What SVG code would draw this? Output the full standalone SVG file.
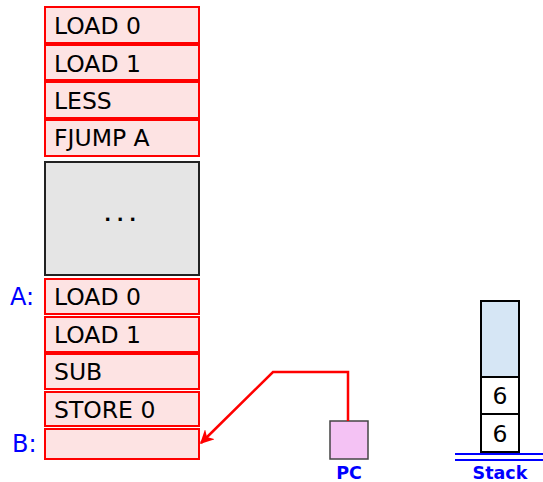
<svg xmlns="http://www.w3.org/2000/svg" width="543" height="482" viewBox="0 0 543 482">
<defs>
<style>
.cell{fill:#fde3e3;stroke:#ff0000;stroke-width:2}
.txt{font-family:"DejaVu Sans",sans-serif;font-size:23.5px;fill:#000}
.lbl{font-family:"DejaVu Sans",sans-serif;font-size:24px;fill:#0000ff}
.blab{font-family:"DejaVu Sans",sans-serif;font-size:17.5px;font-weight:bold;fill:#0000ff;text-anchor:middle}
.sc{fill:#ffffff;stroke:#000;stroke-width:2}
</style>
<marker id="ah" viewBox="0 0 10 10" refX="9" refY="5" markerWidth="14" markerHeight="14" orient="auto" markerUnits="userSpaceOnUse">
<path d="M0,0 L10,5 L0,10 L3,5 Z" fill="#ff0000"/>
</marker>
</defs>
<rect width="543" height="482" fill="#ffffff"/>
<g id="program">
<g id="i1"><rect class="cell" x="45" y="7" width="154" height="36"/><text class="txt" x="54" y="34">LOAD 0</text></g>
<g id="i2"><rect class="cell" x="45" y="45" width="154" height="35"/><text class="txt" x="54" y="72">LOAD 1</text></g>
<g id="i3"><rect class="cell" x="45" y="82" width="154" height="36"/><text class="txt" x="54" y="109">LESS</text></g>
<g id="i4"><rect class="cell" x="45" y="120" width="154" height="36"/><text class="txt" x="54" y="146">FJUMP A</text></g>
<g id="gap"><rect x="45" y="162" width="154" height="113" fill="#e5e5e5" stroke="#222" stroke-width="2"/><text class="txt" x="120" y="221" text-anchor="middle" style="font-size:18px;font-weight:bold;letter-spacing:-0.3px">. . .</text></g>
<g id="i5"><rect class="cell" x="45" y="279" width="154" height="35"/><text class="txt" x="54" y="305">LOAD 0</text></g>
<g id="i6"><rect class="cell" x="45" y="317" width="154" height="35"/><text class="txt" x="54" y="343">LOAD 1</text></g>
<g id="i7"><rect class="cell" x="45" y="354" width="154" height="35"/><text class="txt" x="54" y="380">SUB</text></g>
<g id="i8"><rect class="cell" x="45" y="392" width="154" height="34"/><text class="txt" x="54" y="418">STORE 0</text></g>
<g id="i9"><rect class="cell" x="45" y="429" width="154" height="30"/></g>
<text class="lbl" x="10" y="305">A:</text>
<text class="lbl" x="12" y="452">B:</text>
</g>
<g id="pc"><rect x="330" y="421" width="38" height="38" fill="#f4c2f4" stroke="#444" stroke-width="1.5"/><text class="blab" x="349" y="479">PC</text></g>
<g id="stack">
<rect x="481" y="301" width="38" height="76" fill="#d6e6f5" stroke="#000" stroke-width="2"/>
<rect class="sc" x="481" y="377" width="38" height="37"/>
<text class="txt" x="500" y="404" text-anchor="middle">6</text>
<rect class="sc" x="481" y="414" width="38" height="38"/>
<text class="txt" x="500" y="442" text-anchor="middle">6</text>
<line x1="455" y1="454" x2="543" y2="454" stroke="#0000ff" stroke-width="2.2"/>
<line x1="455" y1="460" x2="543" y2="460" stroke="#0000ff" stroke-width="2.2"/>
<text class="blab" x="500" y="479">Stack</text>
</g>
<g id="connectors">
<polyline points="348,421 348,372 273,372 201,443" fill="none" stroke="#ff0000" stroke-width="2.5" marker-end="url(#ah)"/>
</g>
</svg>
